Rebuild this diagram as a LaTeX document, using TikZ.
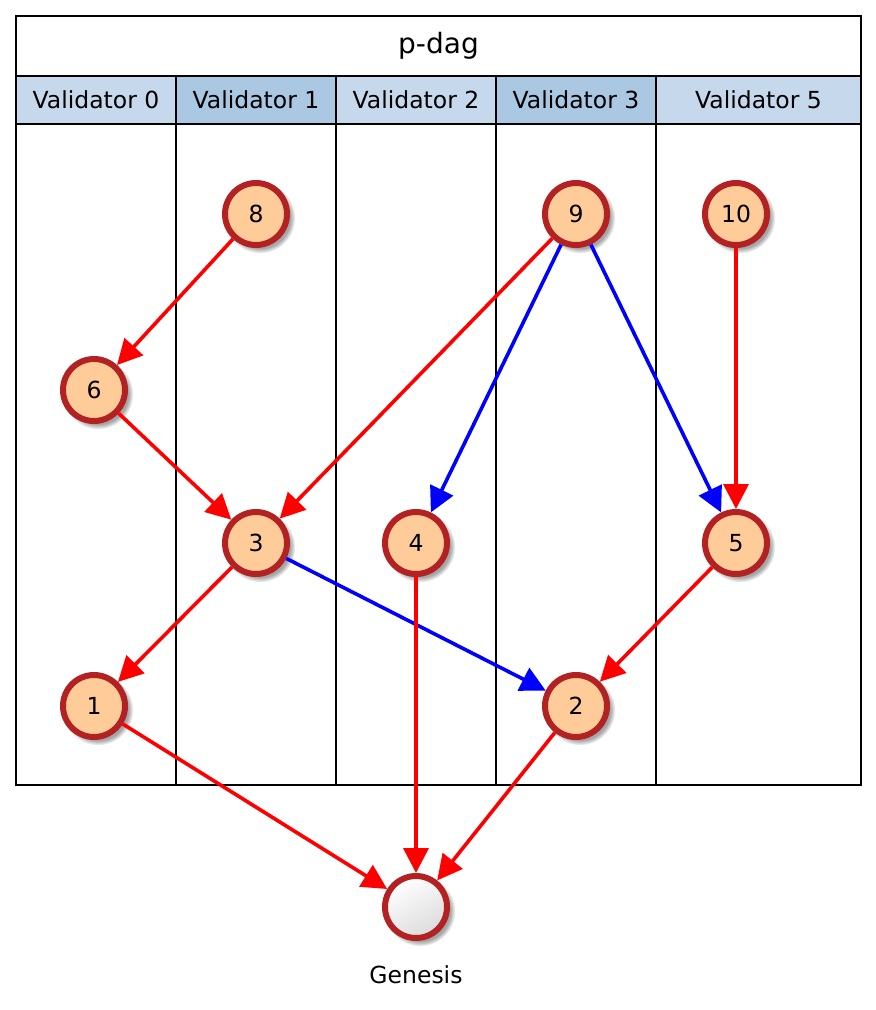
\documentclass[tikz,border=0pt]{standalone}
\usepackage{fontspec}
\setmainfont{DejaVu Sans}
\usetikzlibrary{arrows.meta,shadows,shapes.geometric}
\definecolor{hdrlight}{RGB}{198,217,236}
\definecolor{hdrdark}{RGB}{170,200,226}
\definecolor{nodeborder}{RGB}{178,34,34}
\definecolor{nodefill}{RGB}{255,204,153}
\tikzset{
  shad/.style={circular drop shadow={shadow xshift=3.5pt, shadow yshift=-3.5pt, shadow scale=1.14, opacity=0.7}},
  vnode/.style={circle, draw=nodeborder, line width=6pt, fill=nodefill,
    minimum size=62pt, inner sep=0pt, font=\fontsize{23.5}{28}\selectfont, shad},
  gnode/.style={circle, draw=nodeborder, line width=6pt, top color=white, bottom color=black!14,
    shading angle=30, minimum size=62pt, inner sep=0pt, shad},
  redge/.style={draw=red, line width=3.6pt, -{Triangle[length=25pt,width=25pt]}},
  bedge/.style={draw=blue, line width=3.6pt, -{Triangle[length=25pt,width=25pt]}},
  hdr/.style={font=\fontsize{23.5}{28}\selectfont},
  frame/.style={draw=black, line width=2.2pt},
}
\begin{document}
\begin{tikzpicture}[x=1pt,y=-1pt]
\useasboundingbox (0,0) rectangle (876,1010);
% header fills
\fill[hdrlight] (16,76) rectangle (176,124);
\fill[hdrdark] (176,76) rectangle (336,124);
\fill[hdrlight] (336,76) rectangle (496,124);
\fill[hdrdark] (496,76) rectangle (656,124);
\fill[hdrlight] (656,76) rectangle (861,124);
% frame
\draw[frame] (16,16) rectangle (861,785);
\draw[frame] (16,76) -- (861,76);
\draw[frame] (16,124) -- (861,124);
\foreach \x in {176,336,496,656} \draw[frame] (\x,76) -- (\x,785);
% texts
\node[font=\fontsize{28}{32}\selectfont] (title) at (438.5,46) {p-dag};
\node[hdr] (h0) at (96,100) {Validator 0};
\node[hdr] (h1) at (256,100) {Validator 1};
\node[hdr] (h2) at (416,100) {Validator 2};
\node[hdr] (h3) at (576,100) {Validator 3};
\node[hdr] (h5) at (758.5,100) {Validator 5};
% nodes
\node[vnode] (n8) at (256,214) {8};
\node[vnode] (n9) at (576,214) {9};
\node[vnode] (n10) at (736,214) {10};
\node[vnode] (n6) at (94,390) {6};
\node[vnode] (n3) at (256,543) {3};
\node[vnode] (n4) at (416,543) {4};
\node[vnode] (n5) at (736,543) {5};
\node[vnode] (n1) at (94,706) {1};
\node[vnode] (n2) at (576,706) {2};
\node[gnode] (g) at (416,907) {};
\node[hdr] (glabel) at (416,975) {Genesis};
% edges
\draw[redge] (n8) -- (n6);
\draw[redge] (n6) -- (n3);
\draw[redge] (n9) -- (n3);
\draw[bedge] (n9) -- (n4);
\draw[bedge] (n9) -- (n5);
\draw[redge] (n10) -- (n5);
\draw[redge] (n3) -- (n1);
\draw[bedge] (n3) -- (n2);
\draw[redge] (n4) -- (g);
\draw[redge] (n5) -- (n2);
\draw[redge] (n1) -- (g);
\draw[redge] (n2) -- (g);
\end{tikzpicture}
\end{document}
